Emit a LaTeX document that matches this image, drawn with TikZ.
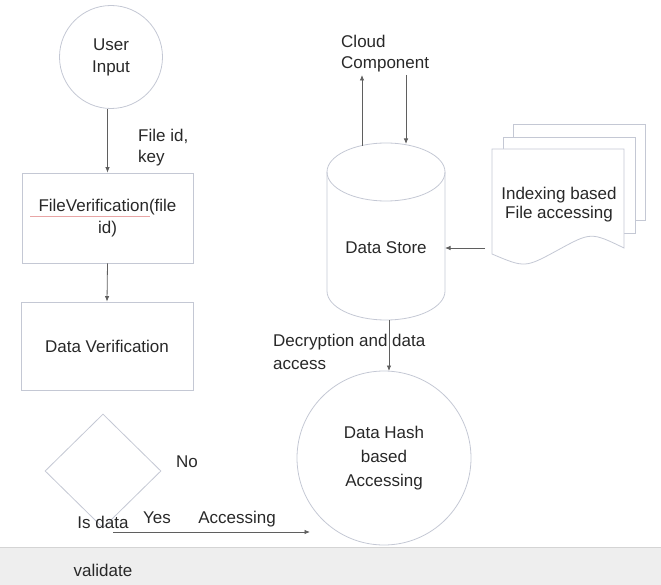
\documentclass[tikz,border=0pt]{standalone}
\usepackage{fontspec}
\setmainfont{Liberation Sans}
\usetikzlibrary{arrows.meta,shapes.geometric}
\definecolor{linec}{RGB}{196,200,212}
\definecolor{arrowc}{RGB}{95,95,95}
\definecolor{textc}{RGB}{40,40,40}
\definecolor{barc}{RGB}{238,238,238}
\definecolor{barline}{RGB}{212,212,212}
\definecolor{spellc}{RGB}{232,165,165}
\tikzset{
  shapeline/.style={draw=linec, line width=0.8pt},
  conn/.style={draw=arrowc, line width=0.8pt, -{Latex[length=5.5pt,width=4.5pt]}},
  txt/.style={text=textc, inner sep=0pt, font=\fontsize{17}{22}\selectfont},
  boxnode/.style={shapeline, txt, rectangle, align=center},
  roundnode/.style={shapeline, txt, circle, align=center}
}
\begin{document}
\begin{tikzpicture}[x=1pt, y=-1pt]
\useasboundingbox (0,0) rectangle (661,585);

% status bar along the bottom edge
\fill[barc] (0,547) rectangle (661,585);
\draw[barline, line width=1pt] (0,547) -- (661,547);
\node[txt, anchor=base] (validate) at (103,576) {validate};

% left column
\node[roundnode, minimum size=103pt] (ui) at (111,57) {User\\Input};
\node[boxnode, minimum width=171pt, minimum height=90pt] (fv) at (107.5,218) {FileVerification(file\\id)};
\draw[spellc, line width=0.5pt] (30,216) -- (150,216);
\node[boxnode, minimum width=172pt, minimum height=88pt] (dv) at (107,346) {Data Verification};
\node[shapeline, diamond, minimum width=116pt, minimum height=114pt, inner sep=0pt] (dec) at (103,471) {};

\draw[conn] (ui.south -| fv.north) -- (fv.north);
\draw[conn] (fv.south) -- (dv.north);
% base anchor of a multi-line node sits on its last line
\node[txt, anchor=base west, align=left, font=\fontsize{17}{21}\selectfont] (fidkey) at (138,163) {File id,\\key};

\node[txt, anchor=base] (no) at (187,467) {No};
\node[txt, anchor=base] (isdata) at (103,528) {Is data};
\node[txt, anchor=base] (yes) at (157,523) {Yes};
\node[txt, anchor=base] (acc) at (237,523) {Accessing};
\coordinate (yesstart) at (113,532);
\coordinate (yesend) at (310,532);
\draw[conn] (yesstart) -- (yesend);

% data store cylinder
\node[inner sep=0pt, minimum width=118pt, minimum height=177pt] (ds) at (386,231.5) {};
\draw[shapeline] (327,172) -- (327,291)
  .. controls (327,307) and (353.4,320) .. (386,320)
  .. controls (418.6,320) and (445,307) .. (445,291) -- (445,172);
\draw[shapeline] (386,172) ellipse [x radius=59, y radius=29];
\node[txt, anchor=base] (dslabel) at (386,254) {Data Store};

% cloud component
\node[txt, anchor=base west, align=left, font=\fontsize{17}{21}\selectfont] (cloud) at (341,69) {Cloud\\Component};
\coordinate (dsup) at (362,146);
\coordinate (dsdown) at (406,144);
\coordinate (cloudup) at (362,75);
\coordinate (clouddown) at (406,75);
\draw[conn] (dsup) -- (cloudup);
\draw[conn] (clouddown) -- (dsdown);

% stacked documents
\draw[shapeline] (513,137) -- (513,124) -- (645,124) -- (645,220) -- (635,220);
\draw[shapeline] (503,149) -- (503,137) -- (635,137) -- (635,233) -- (624,233);
\draw[shapeline, fill=white] (492,149) -- (624,149) -- (624,248)
  .. controls (591,232) .. (558,250)
  .. controls (525,268) .. (492,254) -- cycle;
\node[txt, align=center, font=\fontsize{17}{19}\selectfont, anchor=base] (doc) at (559,219) {Indexing based\\File accessing};
\coordinate (docout) at (485,248);
\coordinate (dsin) at (445,248);
\draw[conn] (docout) -- (dsin);

% hash based access
\node[roundnode, minimum size=174pt, font=\fontsize{17}{24}\selectfont] (dh) at (384,458) {Data Hash\\based\\Accessing};
\draw[conn] (389,320) -- (389,371);
\node[txt, anchor=base west, align=left, font=\fontsize{17}{23}\selectfont] (decr) at (273,369) {Decryption and data\\access};
\end{tikzpicture}
\end{document}
